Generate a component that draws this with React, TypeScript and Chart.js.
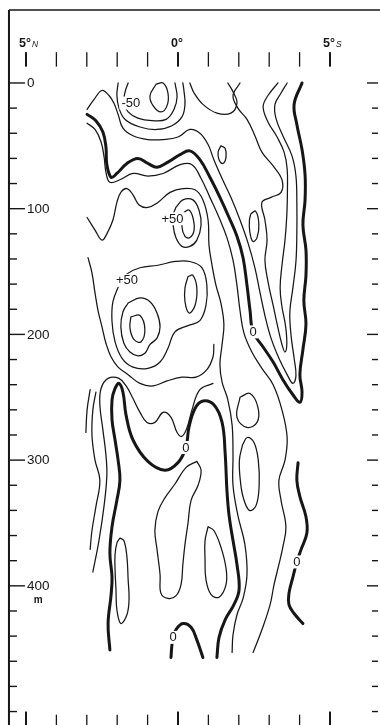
import React, { useEffect, useRef } from "react";
import { Chart, registerables } from "chart.js";

Chart.register(...registerables);

type Pt = [number, number];

// ---------- axis data ----------
const latTicks = [-5, -4, -3, -2, -1, 0, 1, 2, 3, 4, 5];
const latMajor = [-5, 0, 5];
const latLabels = [
  { lat: -5, main: "5°", sub: "N" },
  { lat: 0, main: "0°", sub: "" },
  { lat: 5, main: "5°", sub: "S" },
];
const depthTicks = [0, 20, 40, 60, 80, 100, 120, 140, 160, 180, 200, 220, 240, 260, 280, 300, 320, 340, 360, 380, 400, 420, 440, 460, 480, 500];
const depthLabels = [0, 100, 200, 300, 400];
const depthUnit = "m";

// ---------- zero contours (thick) : [latitude (°, + = south), depth (m)] ----------
const zeroMain: Pt[] = [[-2.99,25],[-2.70,30],[-2.47,39],[-2.37,51],[-2.34,65],[-2.20,75],[-2.01,72],[-1.68,64],[-1.32,60],[-0.99,64],[-0.69,67],[-0.33,63],[0.07,57],[0.39,54],[0.72,61],[1.05,75],[1.38,91],[1.68,107],[1.94,122],[2.14,139],[2.27,161],[2.37,181],[2.47,198],[2.80,210],[3.13,222],[3.45,236],[3.78,248],[4.01,254],[4.08,246],[4.01,232],[4.11,212],[4.21,192],[4.14,173],[4.21,153],[4.21,133],[4.11,113],[4.18,93],[4.18,73],[4.08,53],[3.91,33],[3.82,17],[4.08,0]];
const zeroLower: Pt[] = [[-2.24,451],[-2.30,430],[-2.20,407],[-2.17,393],[-2.24,374],[-2.17,353],[-2.01,332],[-1.91,316],[-1.97,300],[-2.07,284],[-2.17,268],[-2.17,252],[-2.07,243],[-1.94,239],[-1.81,246],[-1.71,264],[-1.48,284],[-0.99,301],[-0.43,308],[0,302],[0.26,290],[0.36,274],[0.56,259],[0.82,253],[1.18,256],[1.45,270],[1.55,294],[1.61,324],[1.68,344],[1.81,364],[1.94,383],[2.01,403],[1.84,415],[1.55,427],[1.35,441],[1.28,457]];
const zeroRight: Pt[] = [[3.95,302],[3.91,316],[4.01,329],[4.21,345],[4.24,358],[4.05,371],[3.91,381],[3.78,393],[3.65,406],[3.65,415],[3.82,422],[4.11,430]];
const zeroBottom: Pt[] = [[-0.23,457],[-0.20,447],[-0.16,441],[-0.07,435],[0.16,430],[0.43,433],[0.62,443],[0.82,457]];

// ---------- negative side (thin) ----------
const negCore: Pt[] = [[-0.72,1],[-0.49,0],[-0.33,8],[-0.36,18],[-0.56,23],[-0.82,18],[-0.92,10],[-0.72,1]];
const neg50: Pt[] = [[-1.64,0],[-1.74,7],[-1.78,16],[-1.64,23],[-1.32,28],[-0.86,30],[-0.39,29],[-0.13,21],[-0.03,11],[-0.10,0]];
const negRing: Pt[] = [[-1.97,0],[-2.01,10],[-1.94,20],[-1.74,29],[-1.25,35],[-0.69,37],[-0.20,34],[0.13,27],[0.23,17],[0.20,7],[0.16,0]];
const negBump: Pt[] = [[0.39,0],[0.53,8],[0.82,17],[1.28,24],[1.74,24],[1.94,16],[1.81,7],[1.64,0]];
const negOuter: Pt[] = [[-2.99,21],[-2.76,13],[-2.50,6],[-2.27,10],[-2.11,16],[-1.97,25],[-1.81,36],[-1.48,42],[-0.99,45],[-0.49,45],[0,43],[0.39,37],[0.72,40],[0.99,49],[1.18,61],[1.45,76],[1.74,91],[2.04,109],[2.30,127],[2.53,147],[2.70,167],[2.86,185],[3.06,203],[3.32,219],[3.59,232],[3.78,239],[3.88,233],[3.82,219],[3.72,201],[3.68,182],[3.78,163],[3.88,142],[3.91,119],[3.91,96],[3.88,74],[3.75,58],[3.45,42],[3.22,28],[3.19,17],[3.39,8],[3.59,0]];
const negInner: Pt[] = [[2.04,0],[1.81,10],[1.97,20],[2.27,29],[2.53,42],[2.76,55],[3.13,66],[3.42,77],[3.39,87],[3.06,91],[2.76,95],[2.86,109],[2.93,125],[2.86,141],[2.96,158],[3.13,177],[3.29,195],[3.42,208],[3.52,214],[3.58,207],[3.53,192],[3.42,178],[3.36,163],[3.42,145],[3.52,125],[3.58,105],[3.60,85],[3.59,68],[3.49,55],[3.26,43],[2.96,31],[2.80,19],[2.96,10],[3.29,0]];
const negOval: Pt[] = [[2.40,104],[2.55,102],[2.66,112],[2.60,123],[2.46,126],[2.36,118],[2.35,109],[2.40,104]];
const negSmall: Pt[] = [[1.41,50],[1.55,52],[1.58,59],[1.48,64],[1.35,61],[1.32,55],[1.41,50]];

// ---------- positive side (thin) ----------
const posOuter: Pt[] = [[-2.99,32],[-2.73,37],[-2.53,47],[-2.43,59],[-2.37,71],[-2.24,79],[-1.91,77],[-1.48,72],[-0.99,74],[-0.49,72],[0.07,65],[0.46,65],[0.76,76],[1.05,91],[1.35,107],[1.61,123],[1.81,141],[1.94,161],[2.04,181],[2.17,199],[2.43,214],[2.76,227],[3.13,240],[3.42,260],[3.59,282],[3.52,300],[3.32,316],[3.39,332],[3.55,353],[3.45,369],[3.32,383],[3.16,399],[3.03,415],[2.76,435],[2.47,453]];
const posRing: Pt[] = [[-2.99,107],[-2.73,117],[-2.50,125],[-2.34,120],[-2.14,109],[-2.01,95],[-1.88,87],[-1.68,84],[-1.48,89],[-1.28,97],[-0.99,99],[-0.66,95],[-0.26,87],[0.16,84],[0.56,85],[0.82,93],[0.99,109],[1.02,129],[1.12,145],[1.25,161],[1.41,175],[1.51,192],[1.45,208],[1.38,224],[1.45,238],[1.64,252],[1.78,272],[1.81,296],[1.81,320],[1.97,344],[2.20,367],[2.27,391],[2.14,410],[1.94,423],[1.81,439],[1.78,453]];
const posRingLow: Pt[] = [[-2.96,139],[-2.83,151],[-2.73,167],[-2.63,181],[-2.50,194],[-2.37,207],[-2.20,218],[-1.97,226],[-1.64,232],[-1.25,239],[-0.82,241],[-0.36,237],[0.13,234],[0.59,234],[0.95,228],[1.15,218],[1.18,208]];
const posWave: Pt[] = [[1.15,239],[0.72,244],[0.46,260],[0.30,274],[0.13,281],[-0.03,278],[-0.23,266],[-0.49,262],[-0.76,270],[-1.02,270],[-1.25,262],[-1.48,251],[-1.68,242],[-1.94,235],[-2.30,235],[-2.53,243],[-2.57,256],[-2.47,276],[-2.37,296],[-2.34,312],[-2.43,336],[-2.60,364],[-2.80,389]];
const posFarLeft: Pt[] = [[-2.70,246],[-2.80,260],[-2.83,280],[-2.73,300],[-2.57,316],[-2.70,337],[-2.83,356],[-2.89,371]];
const posEdge: Pt[] = [[-2.89,244],[-2.99,260],[-3.03,278]];
const pos50Upper: Pt[] = [[-0.07,99],[0.16,93],[0.49,93],[0.69,101],[0.76,113],[0.62,125],[0.39,130],[0.13,130],[-0.07,123],[-0.16,113],[-0.16,105],[-0.07,99]];
const pos60Upper: Pt[] = [[0.20,103],[0.36,101],[0.49,107],[0.53,117],[0.39,123],[0.23,122],[0.13,114],[0.20,103]];
const pos50Lower: Pt[] = [[-1.91,159],[-1.68,152],[-1.25,147],[-0.66,145],[-0.10,142],[0.39,142],[0.79,147],[0.95,161],[0.92,177],[0.72,189],[0.33,193],[-0.10,198],[-0.33,211],[-0.59,222],[-0.99,227],[-1.48,226],[-1.84,219],[-2.07,206],[-2.17,190],[-2.14,174],[-1.91,159]];
const pos60Lower: Pt[] = [[-1.64,175],[-1.25,171],[-0.92,174],[-0.69,183],[-0.59,194],[-0.69,203],[-0.92,208],[-1.09,215],[-1.32,217],[-1.58,214],[-1.78,207],[-1.88,194],[-1.81,182],[-1.64,175]];
const pos70Lower: Pt[] = [[-1.55,186],[-1.25,185],[-1.09,196],[-1.22,206],[-1.45,204],[-1.58,195],[-1.55,186]];
const pos60Side: Pt[] = [[0.33,154],[0.49,153],[0.62,163],[0.56,177],[0.36,183],[0.23,174],[0.23,163],[0.33,154]];

// ---------- deep loops (thin) ----------
const lowLoopA: Pt[] = [[-1.91,362],[-1.78,364],[-1.68,377],[-1.64,395],[-1.61,411],[-1.68,423],[-1.88,430],[-2.01,419],[-2.04,403],[-2.07,387],[-2.07,375],[-2.01,366],[-1.91,362]];
const lowLoopB: Pt[] = [[0.62,301],[0.76,308],[0.66,320],[0.43,332],[0.33,350],[0.23,367],[0.16,383],[0.10,399],[-0.07,408],[-0.33,410],[-0.56,406],[-0.59,391],[-0.69,371],[-0.76,356],[-0.66,341],[-0.43,330],[-0.10,319],[0.26,306],[0.62,301]];
const lowLoopC: Pt[] = [[0.99,353],[1.18,356],[1.41,369],[1.58,386],[1.58,399],[1.35,409],[1.09,407],[0.92,395],[0.89,379],[0.89,364],[0.99,353]];
const lowLoopD: Pt[] = [[2.12,288],[2.28,282],[2.50,286],[2.64,300],[2.67,320],[2.57,336],[2.35,340],[2.15,330],[2.05,316],[2.02,300],[2.12,288]];
const lowOval: Pt[] = [[2.04,250],[2.37,247],[2.63,258],[2.60,270],[2.27,274],[1.94,266],[2.04,250]];

const thickLines: Pt[][] = [zeroMain, zeroLower, zeroRight, zeroBottom];
const thinLines: Pt[][] = [
  negCore, neg50, negRing, negBump, negOuter, negInner, negOval, negSmall,
  posOuter, posRing, posRingLow, posWave, posFarLeft, posEdge,
  pos50Upper, pos60Upper, pos50Lower, pos60Lower, pos70Lower, pos60Side,
  lowLoopA, lowLoopB, lowLoopC, lowLoopD, lowOval,
];

const contourLabelText = ["-50", "+50", "+50", "0", "0", "0", "0"];
const contourLabelLat = [-1.55, -0.18, -1.68, 2.47, 0.26, 3.91, -0.16];
const contourLabelDepth = [16, 108, 157, 198, 290, 381, 441];

// ---------- style / frame ----------
const INK = "#161616";
const FONT = "'Liberation Sans', Arial, sans-serif";
const FRAME_LEFT_LAT = -5.56;
const FRAME_TOP_DEPTH = -58;

const decorPlugin = {
  id: "decor",
  afterDatasetsDraw(chart: any) {
    const { ctx } = chart;
    const xs = chart.scales.x;
    const ys = chart.scales.y;
    const px = (v: number) => xs.getPixelForValue(v);
    const py = (v: number) => ys.getPixelForValue(v);
    const W = chart.width;
    const H = chart.height;
    ctx.save();
    ctx.strokeStyle = INK;
    ctx.fillStyle = INK;
    ctx.lineCap = "butt";

    // contour labels
    ctx.font = `13px ${FONT}`;
    ctx.textAlign = "center";
    ctx.textBaseline = "middle";
    contourLabelText.forEach((t, i) => {
      const x = px(contourLabelLat[i]);
      const y = py(contourLabelDepth[i]);
      const w = ctx.measureText(t).width;
      ctx.fillStyle = "#ffffff";
      ctx.fillRect(x - w / 2 - 2, y - 6.5, w + 4, 13);
      ctx.fillStyle = INK;
      ctx.fillText(t, x, y + 0.5);
    });

    // frame
    const fl = px(FRAME_LEFT_LAT);
    const ft = py(FRAME_TOP_DEPTH);
    ctx.lineWidth = 2;
    ctx.beginPath();
    ctx.moveTo(fl, ft);
    ctx.lineTo(fl, H);
    ctx.stroke();
    ctx.lineWidth = 1.5;
    ctx.beginPath();
    ctx.moveTo(fl, ft);
    ctx.lineTo(W, ft);
    ctx.stroke();

    // top & bottom latitude ticks
    latTicks.forEach((v) => {
      const x = px(v);
      const major = latMajor.includes(v);
      ctx.lineWidth = major ? 2 : 1.3;
      ctx.beginPath();
      ctx.moveTo(x, py(-24.5));
      ctx.lineTo(x, py(-13));
      ctx.stroke();
      ctx.beginPath();
      ctx.moveTo(x, py(major ? 500 : 502.5));
      ctx.lineTo(x, H);
      ctx.stroke();
    });
    latLabels.forEach((l) => {
      const x = px(l.lat) - 7;
      const y = py(-31);
      ctx.textAlign = "left";
      ctx.textBaseline = "middle";
      ctx.font = `bold 12.5px ${FONT}`;
      ctx.fillText(l.main, x, y);
      const w = ctx.measureText(l.main).width;
      if (l.sub) {
        ctx.font = `italic 8.5px ${FONT}`;
        ctx.fillText(l.sub, x + w + 1, y + 1);
      }
    });

    // depth ticks (left and right)
    depthTicks.forEach((d) => {
      const y = py(d);
      const major = depthLabels.includes(d);
      ctx.lineWidth = 1.4;
      ctx.beginPath();
      ctx.moveTo(fl, y);
      ctx.lineTo(fl + (major ? 16 : 8), y);
      ctx.stroke();
      ctx.beginPath();
      ctx.moveTo(W - (major ? 13 : 8), y);
      ctx.lineTo(W - 2, y);
      ctx.stroke();
    });
    ctx.font = `13.5px ${FONT}`;
    ctx.textAlign = "left";
    ctx.textBaseline = "middle";
    depthLabels.forEach((d) => {
      ctx.fillText(String(d), fl + 18, py(d) + 0.5);
    });
    const last = depthLabels[depthLabels.length - 1];
    const lw = ctx.measureText(String(last)).width;
    ctx.font = `bold 10px ${FONT}`;
    ctx.textAlign = "center";
    ctx.fillText(depthUnit, fl + 18 + lw / 2, py(last) + 14);

    ctx.restore();
  },
};

export default function App() {
  const canvasRef = useRef<HTMLCanvasElement | null>(null);

  useEffect(() => {
    document.body.style.margin = "0";
    document.body.style.background = "#ffffff";
    const canvas = canvasRef.current;
    if (!canvas) return;
    const toData = (pts: Pt[]) => pts.map(([x, y]) => ({ x, y }));
    const datasets = [
      ...thinLines.map((pts) => ({
        data: toData(pts),
        showLine: true,
        borderColor: INK,
        borderWidth: 1.25,
        pointRadius: 0,
        tension: 0.4,
        fill: false,
        borderCapStyle: "round",
        borderJoinStyle: "round",
      })),
      ...thickLines.map((pts) => ({
        data: toData(pts),
        showLine: true,
        borderColor: INK,
        borderWidth: 3,
        pointRadius: 0,
        tension: 0.4,
        fill: false,
        borderCapStyle: "round",
        borderJoinStyle: "round",
      })),
    ];
    const chart = new Chart(canvas, {
      type: "scatter",
      data: { datasets: datasets as any },
      options: {
        animation: false,
        responsive: false,
        maintainAspectRatio: false,
        devicePixelRatio: 1,
        events: [],
        layout: { padding: 0 },
        plugins: { legend: { display: false }, tooltip: { enabled: false } },
        scales: {
          x: { type: "linear", min: -5.855, max: 6.645, display: false },
          y: { type: "linear", min: -66, max: 510.7, reverse: true, display: false },
        },
      },
      plugins: [decorPlugin],
    });
    return () => chart.destroy();
  }, []);

  return (
    <div style={{ width: 380, height: 725, position: "relative", background: "#fff" }}>
      <canvas ref={canvasRef} width={380} height={725} style={{ display: "block" }} />
    </div>
  );
}
